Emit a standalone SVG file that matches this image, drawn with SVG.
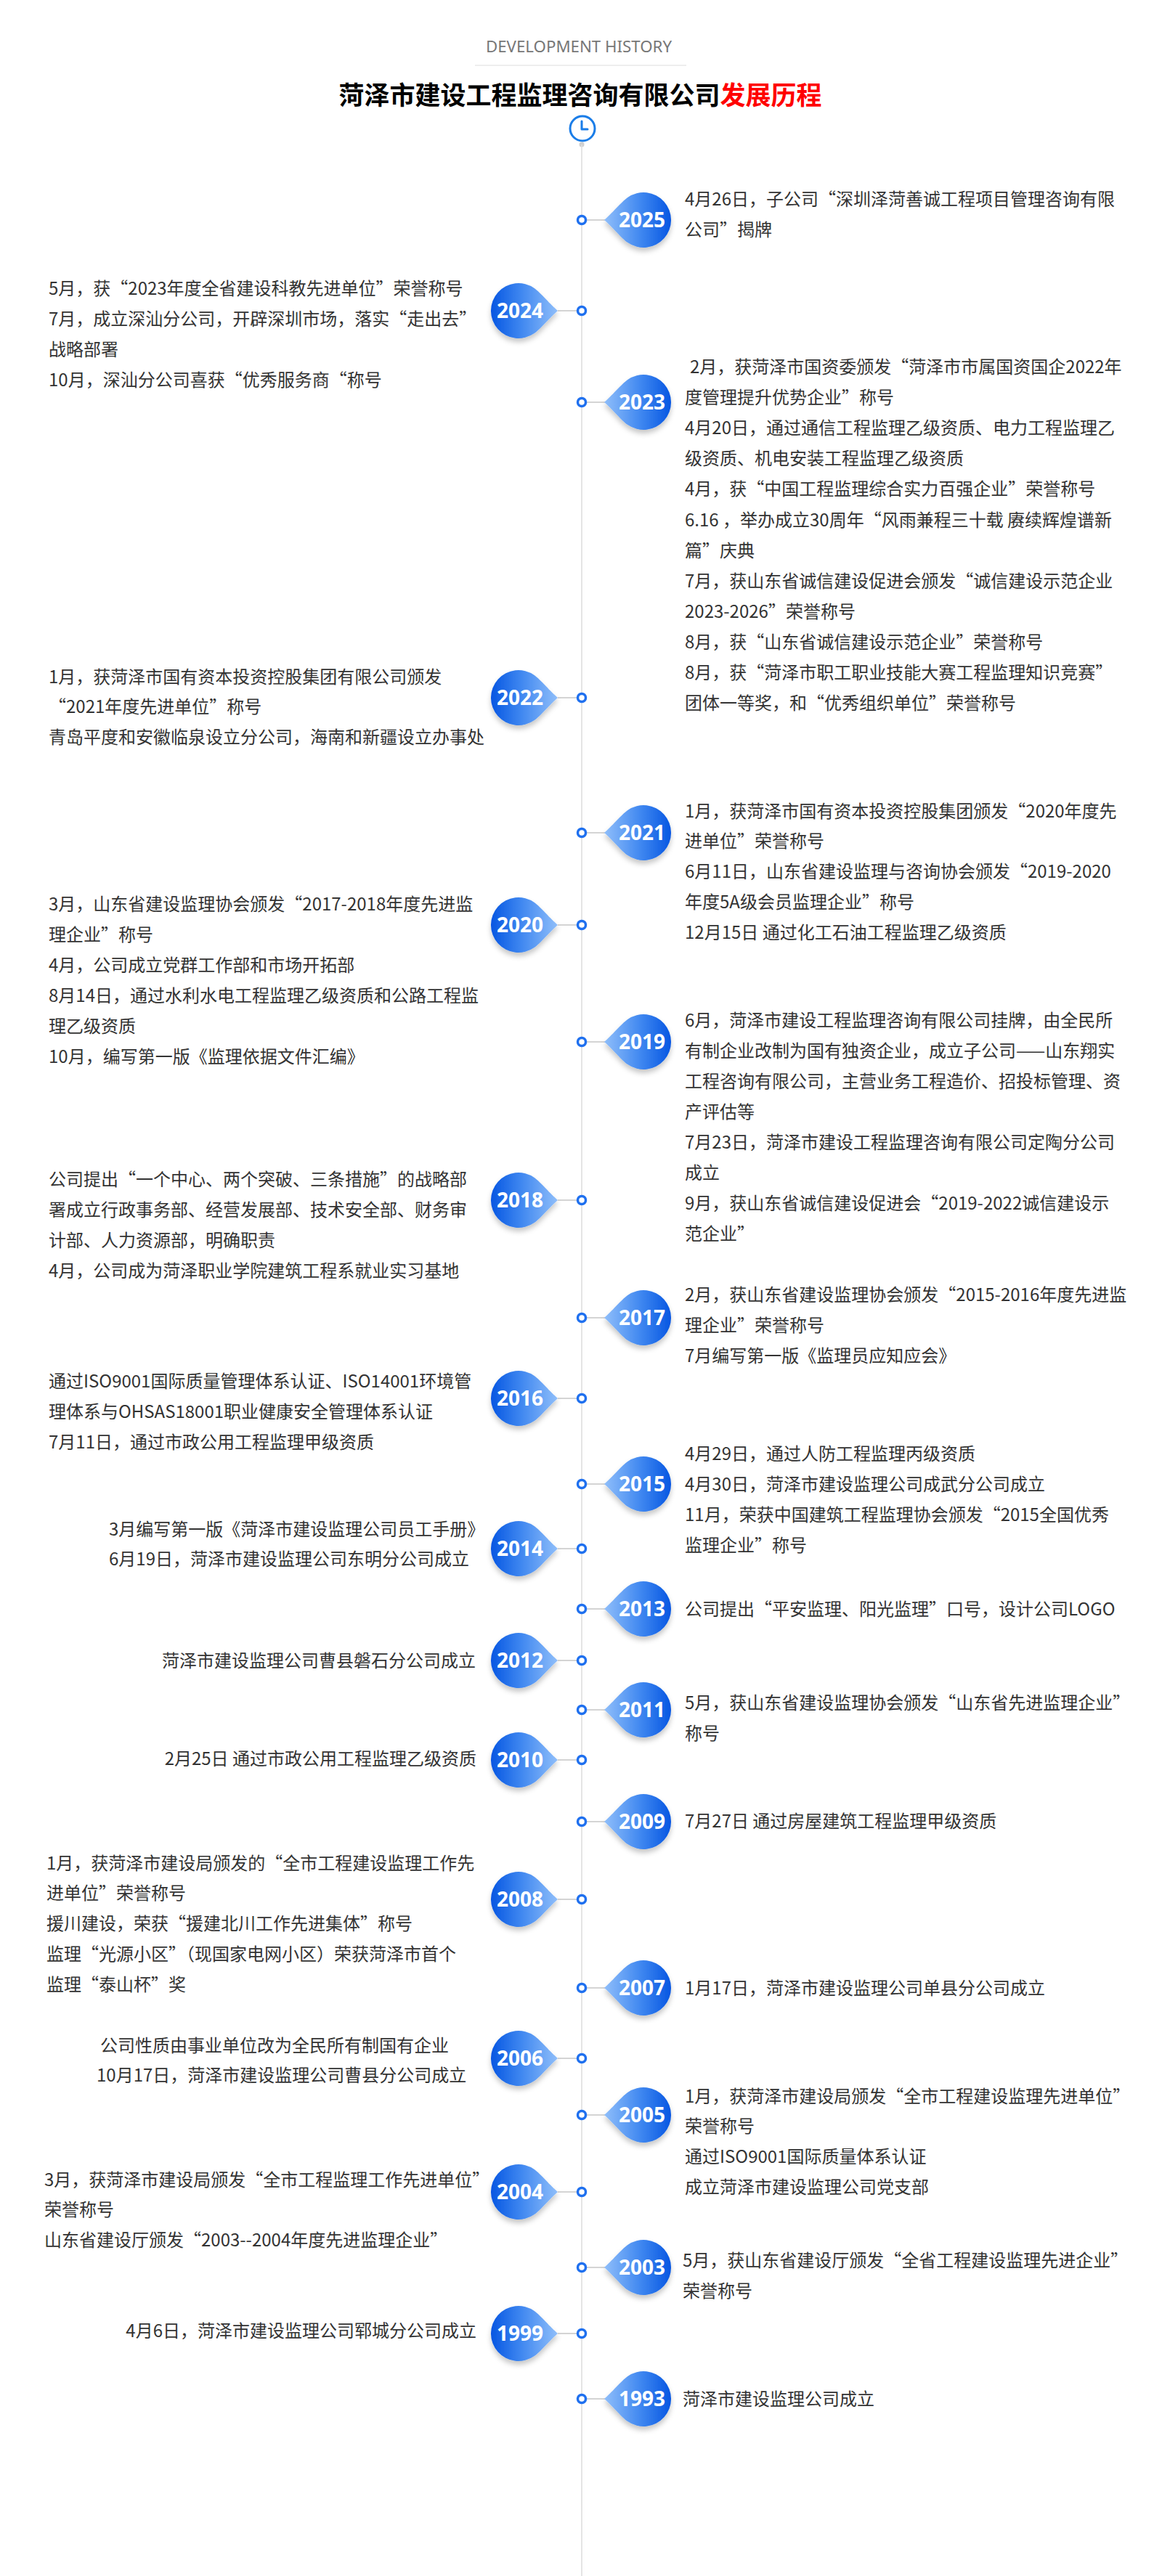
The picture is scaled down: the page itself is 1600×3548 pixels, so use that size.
<svg xmlns="http://www.w3.org/2000/svg" xmlns:xlink="http://www.w3.org/1999/xlink" width="1600" height="3548" viewBox="0 0 1600 3548">
<style>
.t{font-family:"Noto Sans CJK SC","Noto Sans",sans-serif;font-size:24px;fill:#333;}
.yr{font-family:"Noto Sans","Open Sans",sans-serif;font-size:28px;font-weight:700;fill:#fff;text-anchor:middle;}
.dot{fill:#fff;stroke:#1f70ef;stroke-width:3.5;}
.cn{stroke:#d4d4d4;stroke-width:2;fill:none;}
.end{text-anchor:end;}
</style>
<defs>
<linearGradient id="g" x1="0" y1="0" x2="1" y2="0">
<stop offset="0" stop-color="#8fbefa"/>
<stop offset="0.55" stop-color="#3f87f0"/>
<stop offset="1" stop-color="#0656e2"/>
</linearGradient>
<filter id="sh" x="-30%" y="-30%" width="160%" height="170%">
<feDropShadow dx="0" dy="5" stdDeviation="3.5" flood-color="#000" flood-opacity="0.22"/>
</filter>
<path id="pin" d="M -54 0 C -44.8 -7.7 -30 -25.4 -21.8 -31.1 A 38 38 0 1 1 -21.8 31.1 C -30 25.4 -44.8 7.7 -54 0 Z" fill="url(#g)" filter="url(#sh)"/>
</defs>
<rect width="1600" height="3548" fill="#fff"/>

<g id="header">
<text x="797" y="72" text-anchor="middle" font-family="Noto Sans, Open Sans, sans-serif" font-size="22" fill="#777" textLength="256" lengthAdjust="spacingAndGlyphs">DEVELOPMENT HISTORY</text>
<line x1="654" y1="90" x2="945" y2="90" stroke="#eeeeee" stroke-width="2"/>
<text x="799" y="144" text-anchor="middle" font-family="Noto Sans CJK SC, sans-serif" font-size="35" font-weight="700" fill="#000">菏泽市建设工程监理咨询有限公司<tspan fill="#ff0000">发展历程</tspan></text>
</g>

<g id="clock">
<circle cx="802" cy="177" r="17" fill="#fff" stroke="#1a7de8" stroke-width="3"/>
<path d="M 801 167 V 178 H 809" fill="none" stroke="#1a7de8" stroke-width="3" stroke-linecap="round" stroke-linejoin="round"/>
<circle cx="801" cy="199" r="3.5" fill="#cfcfcf"/>
</g>

<g id="connectors">
<line x1="801" y1="199" x2="801" y2="3548" stroke="#dcdcdc" stroke-width="1.5"/>
<line class="cn" x1="806" y1="303" x2="834" y2="303"/>
<line class="cn" x1="768" y1="428" x2="796" y2="428"/>
<line class="cn" x1="806" y1="554" x2="834" y2="554"/>
<line class="cn" x1="768" y1="961" x2="796" y2="961"/>
<line class="cn" x1="806" y1="1147" x2="834" y2="1147"/>
<line class="cn" x1="768" y1="1274" x2="796" y2="1274"/>
<line class="cn" x1="806" y1="1435" x2="834" y2="1435"/>
<line class="cn" x1="768" y1="1653" x2="796" y2="1653"/>
<line class="cn" x1="806" y1="1815" x2="834" y2="1815"/>
<line class="cn" x1="768" y1="1926" x2="796" y2="1926"/>
<line class="cn" x1="806" y1="2044" x2="834" y2="2044"/>
<line class="cn" x1="768" y1="2133" x2="796" y2="2133"/>
<line class="cn" x1="806" y1="2216" x2="834" y2="2216"/>
<line class="cn" x1="768" y1="2287" x2="796" y2="2287"/>
<line class="cn" x1="806" y1="2355" x2="834" y2="2355"/>
<line class="cn" x1="768" y1="2424" x2="796" y2="2424"/>
<line class="cn" x1="806" y1="2509" x2="834" y2="2509"/>
<line class="cn" x1="768" y1="2616" x2="796" y2="2616"/>
<line class="cn" x1="806" y1="2738" x2="834" y2="2738"/>
<line class="cn" x1="768" y1="2835" x2="796" y2="2835"/>
<line class="cn" x1="806" y1="2913" x2="834" y2="2913"/>
<line class="cn" x1="768" y1="3019" x2="796" y2="3019"/>
<line class="cn" x1="806" y1="3123" x2="834" y2="3123"/>
<line class="cn" x1="768" y1="3214" x2="796" y2="3214"/>
<line class="cn" x1="806" y1="3304" x2="834" y2="3304"/>
</g>

<g id="y2025">
<circle class="dot" cx="801" cy="303" r="5.5"/>
<use xlink:href="#pin" transform="translate(886,303)"/>
<text class="yr" x="884" y="313">2025</text>
<text class="t" x="943" y="283">4月26日，子公司“深圳泽菏善诚工程项目管理咨询有限</text>
<text class="t" x="943" y="325">公司”揭牌</text>
</g>

<g id="y2024">
<circle class="dot" cx="801" cy="428" r="5.5"/>
<use xlink:href="#pin" transform="translate(714,428) scale(-1,1)"/>
<text class="yr" x="716" y="438">2024</text>
<text class="t" x="67" y="406">5月，获“2023年度全省建设科教先进单位”荣誉称号</text>
<text class="t" x="67" y="448">7月，成立深汕分公司，开辟深圳市场，落实“走出去”</text>
<text class="t" x="67" y="490">战略部署</text>
<text class="t" x="67" y="532">10月，深汕分公司喜获“优秀服务商“称号</text>
</g>

<g id="y2023">
<circle class="dot" cx="801" cy="554" r="5.5"/>
<use xlink:href="#pin" transform="translate(886,554)"/>
<text class="yr" x="884" y="564">2023</text>
<text class="t" x="950" y="514">2月，获菏泽市国资委颁发“菏泽市市属国资国企2022年</text>
<text class="t" x="943" y="556">度管理提升优势企业”称号</text>
<text class="t" x="943" y="598">4月20日，通过通信工程监理乙级资质、电力工程监理乙</text>
<text class="t" x="943" y="640">级资质、机电安装工程监理乙级资质</text>
<text class="t" x="943" y="682">4月，获“中国工程监理综合实力百强企业”荣誉称号</text>
<text class="t" x="943" y="725">6.16 ，举办成立30周年“风雨兼程三十载 赓续辉煌谱新</text>
<text class="t" x="943" y="767">篇”庆典</text>
<text class="t" x="943" y="809">7月，获山东省诚信建设促进会颁发“诚信建设示范企业</text>
<text class="t" x="943" y="851">2023-2026”荣誉称号</text>
<text class="t" x="943" y="893">8月，获“山东省诚信建设示范企业”荣誉称号</text>
<text class="t" x="943" y="935">8月，获“菏泽市职工职业技能大赛工程监理知识竞赛”</text>
<text class="t" x="943" y="977">团体一等奖，和“优秀组织单位”荣誉称号</text>
</g>

<g id="y2022">
<circle class="dot" cx="801" cy="961" r="5.5"/>
<use xlink:href="#pin" transform="translate(714,961) scale(-1,1)"/>
<text class="yr" x="716" y="971">2022</text>
<text class="t" x="67" y="941">1月，获菏泽市国有资本投资控股集团有限公司颁发</text>
<text class="t" x="67" y="982">“2021年度先进单位”称号</text>
<text class="t" x="67" y="1024">青岛平度和安徽临泉设立分公司，海南和新疆设立办事处</text>
</g>

<g id="y2021">
<circle class="dot" cx="801" cy="1147" r="5.5"/>
<use xlink:href="#pin" transform="translate(886,1147)"/>
<text class="yr" x="884" y="1157">2021</text>
<text class="t" x="943" y="1126">1月，获菏泽市国有资本投资控股集团颁发“2020年度先</text>
<text class="t" x="943" y="1167">进单位”荣誉称号</text>
<text class="t" x="943" y="1209">6月11日，山东省建设监理与咨询协会颁发“2019-2020</text>
<text class="t" x="943" y="1251">年度5A级会员监理企业”称号</text>
<text class="t" x="943" y="1293">12月15日 通过化工石油工程监理乙级资质</text>
</g>

<g id="y2020">
<circle class="dot" cx="801" cy="1274" r="5.5"/>
<use xlink:href="#pin" transform="translate(714,1274) scale(-1,1)"/>
<text class="yr" x="716" y="1284">2020</text>
<text class="t" x="67" y="1254">3月，山东省建设监理协会颁发“2017-2018年度先进监</text>
<text class="t" x="67" y="1296">理企业”称号</text>
<text class="t" x="67" y="1338">4月，公司成立党群工作部和市场开拓部</text>
<text class="t" x="67" y="1380">8月14日，通过水利水电工程监理乙级资质和公路工程监</text>
<text class="t" x="67" y="1422">理乙级资质</text>
<text class="t" x="67" y="1464">10月，编写第一版《监理依据文件汇编》</text>
</g>

<g id="y2019">
<circle class="dot" cx="801" cy="1435" r="5.5"/>
<use xlink:href="#pin" transform="translate(886,1435)"/>
<text class="yr" x="884" y="1445">2019</text>
<text class="t" x="943" y="1414">6月，菏泽市建设工程监理咨询有限公司挂牌，由全民所</text>
<text class="t" x="943" y="1456">有制企业改制为国有独资企业，成立子公司——山东翔实</text>
<text class="t" x="943" y="1498">工程咨询有限公司，主营业务工程造价、招投标管理、资</text>
<text class="t" x="943" y="1540">产评估等</text>
<text class="t" x="943" y="1582">7月23日，菏泽市建设工程监理咨询有限公司定陶分公司</text>
<text class="t" x="943" y="1624">成立</text>
<text class="t" x="943" y="1666">9月，获山东省诚信建设促进会“2019-2022诚信建设示</text>
<text class="t" x="943" y="1708">范企业”</text>
</g>

<g id="y2018">
<circle class="dot" cx="801" cy="1653" r="5.5"/>
<use xlink:href="#pin" transform="translate(714,1653) scale(-1,1)"/>
<text class="yr" x="716" y="1663">2018</text>
<text class="t" x="67" y="1633">公司提出“一个中心、两个突破、三条措施”的战略部</text>
<text class="t" x="67" y="1675">署成立行政事务部、经营发展部、技术安全部、财务审</text>
<text class="t" x="67" y="1717">计部、人力资源部，明确职责</text>
<text class="t" x="67" y="1759">4月，公司成为菏泽职业学院建筑工程系就业实习基地</text>
</g>

<g id="y2017">
<circle class="dot" cx="801" cy="1815" r="5.5"/>
<use xlink:href="#pin" transform="translate(886,1815)"/>
<text class="yr" x="884" y="1825">2017</text>
<text class="t" x="943" y="1792">2月，获山东省建设监理协会颁发“2015-2016年度先进监</text>
<text class="t" x="943" y="1834">理企业”荣誉称号</text>
<text class="t" x="943" y="1876">7月编写第一版《监理员应知应会》</text>
</g>

<g id="y2016">
<circle class="dot" cx="801" cy="1926" r="5.5"/>
<use xlink:href="#pin" transform="translate(714,1926) scale(-1,1)"/>
<text class="yr" x="716" y="1936">2016</text>
<text class="t" x="67" y="1911">通过ISO9001国际质量管理体系认证、ISO14001环境管</text>
<text class="t" x="67" y="1953">理体系与OHSAS18001职业健康安全管理体系认证</text>
<text class="t" x="67" y="1995">7月11日，通过市政公用工程监理甲级资质</text>
</g>

<g id="y2015">
<circle class="dot" cx="801" cy="2044" r="5.5"/>
<use xlink:href="#pin" transform="translate(886,2044)"/>
<text class="yr" x="884" y="2054">2015</text>
<text class="t" x="943" y="2011">4月29日，通过人防工程监理丙级资质</text>
<text class="t" x="943" y="2053">4月30日，菏泽市建设监理公司成武分公司成立</text>
<text class="t" x="943" y="2095">11月，荣获中国建筑工程监理协会颁发“2015全国优秀</text>
<text class="t" x="943" y="2137">监理企业”称号</text>
</g>

<g id="y2014">
<circle class="dot" cx="801" cy="2133" r="5.5"/>
<use xlink:href="#pin" transform="translate(714,2133) scale(-1,1)"/>
<text class="yr" x="716" y="2143">2014</text>
<text class="t" x="150" y="2115">3月编写第一版《菏泽市建设监理公司员工手册》</text>
<text class="t" x="150" y="2156">6月19日，菏泽市建设监理公司东明分公司成立</text>
</g>

<g id="y2013">
<circle class="dot" cx="801" cy="2216" r="5.5"/>
<use xlink:href="#pin" transform="translate(886,2216)"/>
<text class="yr" x="884" y="2226">2013</text>
<text class="t" x="943" y="2225">公司提出“平安监理、阳光监理”口号，设计公司LOGO</text>
</g>

<g id="y2012">
<circle class="dot" cx="801" cy="2287" r="5.5"/>
<use xlink:href="#pin" transform="translate(714,2287) scale(-1,1)"/>
<text class="yr" x="716" y="2297">2012</text>
<text class="t end" x="655" y="2296">菏泽市建设监理公司曹县磐石分公司成立</text>
</g>

<g id="y2011">
<circle class="dot" cx="801" cy="2355" r="5.5"/>
<use xlink:href="#pin" transform="translate(886,2355)"/>
<text class="yr" x="884" y="2365">2011</text>
<text class="t" x="943" y="2354">5月，获山东省建设监理协会颁发“山东省先进监理企业”</text>
<text class="t" x="943" y="2396">称号</text>
</g>

<g id="y2010">
<circle class="dot" cx="801" cy="2424" r="5.5"/>
<use xlink:href="#pin" transform="translate(714,2424) scale(-1,1)"/>
<text class="yr" x="716" y="2434">2010</text>
<text class="t end" x="656" y="2431">2月25日 通过市政公用工程监理乙级资质</text>
</g>

<g id="y2009">
<circle class="dot" cx="801" cy="2509" r="5.5"/>
<use xlink:href="#pin" transform="translate(886,2509)"/>
<text class="yr" x="884" y="2519">2009</text>
<text class="t" x="943" y="2517">7月27日 通过房屋建筑工程监理甲级资质</text>
</g>

<g id="y2008">
<circle class="dot" cx="801" cy="2616" r="5.5"/>
<use xlink:href="#pin" transform="translate(714,2616) scale(-1,1)"/>
<text class="yr" x="716" y="2626">2008</text>
<text class="t" x="64" y="2575">1月，获菏泽市建设局颁发的“全市工程建设监理工作先</text>
<text class="t" x="64" y="2616">进单位”荣誉称号</text>
<text class="t" x="64" y="2658">援川建设，荣获“援建北川工作先进集体”称号</text>
<text class="t" x="64" y="2700">监理“光源小区”（现国家电网小区）荣获菏泽市首个</text>
<text class="t" x="64" y="2742">监理“泰山杯”奖</text>
</g>

<g id="y2007">
<circle class="dot" cx="801" cy="2738" r="5.5"/>
<use xlink:href="#pin" transform="translate(886,2738)"/>
<text class="yr" x="884" y="2748">2007</text>
<text class="t" x="943" y="2747">1月17日，菏泽市建设监理公司单县分公司成立</text>
</g>

<g id="y2006">
<circle class="dot" cx="801" cy="2835" r="5.5"/>
<use xlink:href="#pin" transform="translate(714,2835) scale(-1,1)"/>
<text class="yr" x="716" y="2845">2006</text>
<text class="t" x="138" y="2826">公司性质由事业单位改为全民所有制国有企业</text>
<text class="t" x="133" y="2867">10月17日，菏泽市建设监理公司曹县分公司成立</text>
</g>

<g id="y2005">
<circle class="dot" cx="801" cy="2913" r="5.5"/>
<use xlink:href="#pin" transform="translate(886,2913)"/>
<text class="yr" x="884" y="2923">2005</text>
<text class="t" x="943" y="2896">1月，获菏泽市建设局颁发“全市工程建设监理先进单位”</text>
<text class="t" x="943" y="2937">荣誉称号</text>
<text class="t" x="943" y="2979">通过ISO9001国际质量体系认证</text>
<text class="t" x="943" y="3021">成立菏泽市建设监理公司党支部</text>
</g>

<g id="y2004">
<circle class="dot" cx="801" cy="3019" r="5.5"/>
<use xlink:href="#pin" transform="translate(714,3019) scale(-1,1)"/>
<text class="yr" x="716" y="3029">2004</text>
<text class="t" x="61" y="3011">3月，获菏泽市建设局颁发“全市工程监理工作先进单位”</text>
<text class="t" x="61" y="3052">荣誉称号</text>
<text class="t" x="61" y="3094">山东省建设厅颁发“2003--2004年度先进监理企业”</text>
</g>

<g id="y2003">
<circle class="dot" cx="801" cy="3123" r="5.5"/>
<use xlink:href="#pin" transform="translate(886,3123)"/>
<text class="yr" x="884" y="3133">2003</text>
<text class="t" x="940" y="3122">5月，获山东省建设厅颁发“全省工程建设监理先进企业”</text>
<text class="t" x="940" y="3164">荣誉称号</text>
</g>

<g id="y1999">
<circle class="dot" cx="801" cy="3214" r="5.5"/>
<use xlink:href="#pin" transform="translate(714,3214) scale(-1,1)"/>
<text class="yr" x="716" y="3224">1999</text>
<text class="t end" x="656" y="3219">4月6日，菏泽市建设监理公司郓城分公司成立</text>
</g>

<g id="y1993">
<circle class="dot" cx="801" cy="3304" r="5.5"/>
<use xlink:href="#pin" transform="translate(886,3304)"/>
<text class="yr" x="884" y="3314">1993</text>
<text class="t" x="940" y="3313">菏泽市建设监理公司成立</text>
</g>
</svg>
